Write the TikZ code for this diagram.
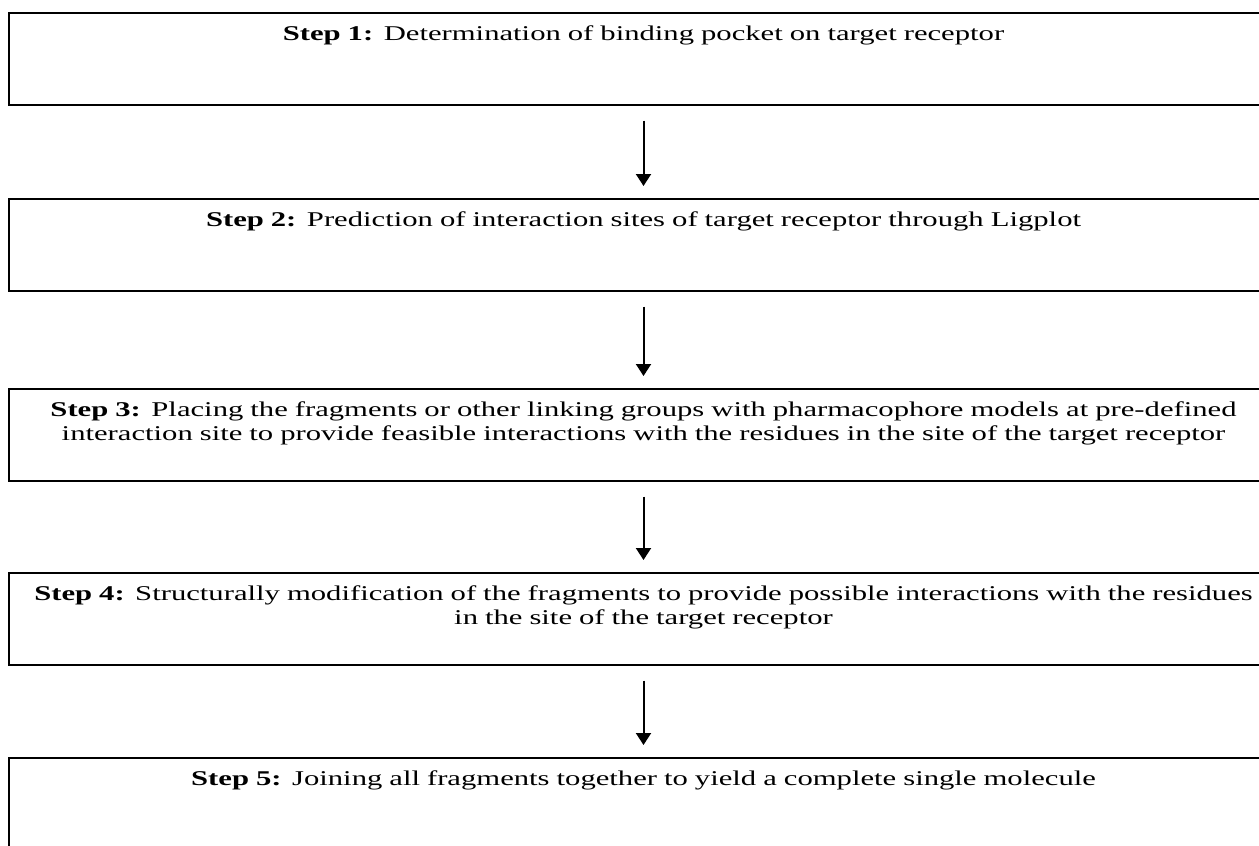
\documentclass[tikz,border=0pt]{standalone}
\usepackage{fontspec}
\setmainfont{Liberation Serif}[FakeStretch=1.46]
\usetikzlibrary{arrows.meta}

\tikzset{
  stepbox/.style={draw, line width=1.6pt, inner sep=0pt, anchor=north,
    minimum width=1269pt, text width=1269pt, align=center,
    text height=28pt, text depth=64pt,
    font=\fontsize{21}{23.5}\selectfont},
  flow/.style={-{Triangle[length=12pt,width=15pt]}, line width=2pt,
    shorten <=15pt, shorten >=12pt}
}

\begin{document}
\begin{tikzpicture}[x=1pt,y=1pt]
        \useasboundingbox (0,0) rectangle (1259,-846);

        % the five steps
        \node[stepbox] (s1) at (643.5,-12) {\textbf{Step 1:} Determination of binding pocket on target receptor};
        \node[stepbox] (s2) at (643.5,-198) {\textbf{Step 2:} Prediction of interaction sites of target receptor through Ligplot};
        \node[stepbox] (s3) at (643.5,-388) {\textbf{Step 3:} Placing the fragments or other linking groups with pharmacophore models at pre-defined\\
          interaction site to provide feasible interactions with the residues in the site of the target receptor};
        \node[stepbox] (s4) at (643.5,-572) {\textbf{Step 4:} Structurally modification of the fragments to provide possible interactions with the residues\\
          in the site of the target receptor};
        \node[stepbox] (s5) at (643.5,-757) {\textbf{Step 5:} Joining all fragments together to yield a complete single molecule};

        % arrows between them
        \draw[flow] (s1) -- (s2);
        \draw[flow] (s2) -- (s3);
        \draw[flow] (s3) -- (s4);
        \draw[flow] (s4) -- (s5);
    \end{tikzpicture}
\end{document}
